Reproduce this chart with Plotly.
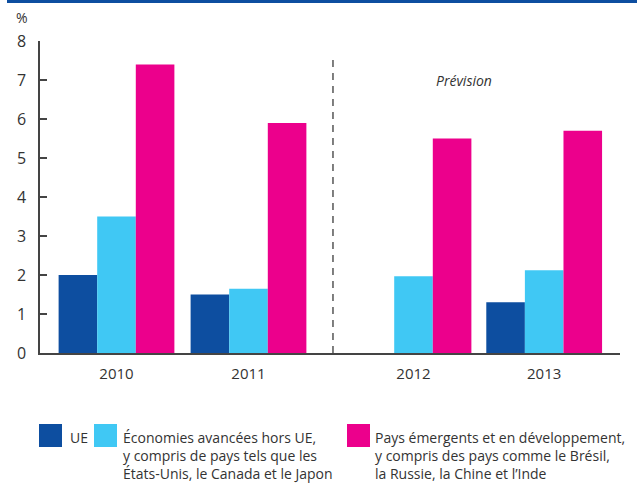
import plotly.graph_objects as go

years = ["2010", "2011", "2012", "2013"]
x_pos = [0, 1, 2.25, 3.24]
series_names = [
    "UE",
    "Économies avancées hors UE,<br>y compris de pays tels que les<br>États-Unis, le Canada et le Japon",
    "Pays émergents et en développement,<br>y compris des pays comme le Brésil,<br>la Russie, la Chine et l’Inde",
]
ue = [2.0, 1.5, None, 1.3]
advanced = [3.5, 1.65, 1.97, 2.12]
emerging = [7.4, 5.9, 5.5, 5.7]
colors = ["#0D4EA0", "#40C8F4", "#EC008C"]
y_ticks = [0, 1, 2, 3, 4, 5, 6, 7, 8]

FONT = "Open Sans"
fig = go.Figure()
for name, vals, col in zip(series_names, [ue, advanced, emerging], colors):
    fig.add_trace(go.Bar(x=x_pos, y=vals, name=name, marker_color=col,
                         marker_line_width=0, showlegend=False))

# plot area geometry: left 40, right 620, top 41, bottom 353
L, R, T, B = 40, 620, 41, 353
W, H = R - L, B - T
def px(xp):
    return (xp - L) / W
def py(yp):
    return (B - yp) / H

shapes = []
# top banner
shapes.append(dict(type="rect", xref="paper", yref="paper", x0=px(7), x1=px(640),
                   y0=py(3), y1=py(-2), fillcolor="#0D4EA0", line_width=0, layer="above"))
# dashed separator
shapes.append(dict(type="line", xref="x", yref="y", x0=1.64, x1=1.64, y0=0, y1=7.55,
                   line=dict(color="#555555", width=1.5, dash="7px,6px")))
# legend squares
sq = [(39, 62), (94, 117), (347, 370)]
for (a, b), col in zip(sq, colors):
    shapes.append(dict(type="rect", xref="paper", yref="paper", x0=px(a), x1=px(b),
                       y0=py(447), y1=py(424), fillcolor=col, line_width=0))

annotations = []
text_x = [68, 121, 373]
for name, tx in zip(series_names, text_x):
    annotations.append(dict(xref="paper", yref="paper", x=px(tx), y=py(426),
                            xanchor="left", yanchor="top", text=name, showarrow=False,
                            align="left", font=dict(family=FONT, size=14, color="#333333")))
annotations.append(dict(xref="paper", yref="paper", x=px(22), y=py(17), text="%",
                        showarrow=False, xanchor="center", yanchor="middle",
                        font=dict(family=FONT, size=14, color="#333333")))
annotations.append(dict(xref="x", yref="y", x=2.63, y=7.0, text="<i>Prévision</i>",
                        showarrow=False, xanchor="center", yanchor="middle",
                        font=dict(family=FONT, size=14, color="#333333")))

fig.update_layout(
    width=637, height=483,
    margin=dict(l=L, r=637 - R, t=T, b=483 - B),
    paper_bgcolor="white", plot_bgcolor="white",
    barmode="group", bargap=0.114, bargroupgap=0,
    shapes=shapes, annotations=annotations,
    font=dict(family=FONT, color="#333333"),
)
fig.update_xaxes(
    range=[(L - 116.5) / 132, (R - 116.5) / 132],
    tickvals=x_pos, ticktext=years, ticks="",
    showline=True, linecolor="#444444", linewidth=1.5,
    showgrid=False, zeroline=False,
    tickfont=dict(family=FONT, size=15, color="#333333"),
    ticklabelstandoff=6,
)
fig.update_yaxes(
    range=[0, 8], tickvals=y_ticks, ticks="inside", ticklen=7, tickwidth=1.5,
    tickcolor="#444444", showline=True, linecolor="#444444", linewidth=1.5,
    showgrid=False, zeroline=False,
    tickfont=dict(family=FONT, size=16, color="#333333"),
    ticklabelstandoff=9,
)
fig.write_html("out.html")
